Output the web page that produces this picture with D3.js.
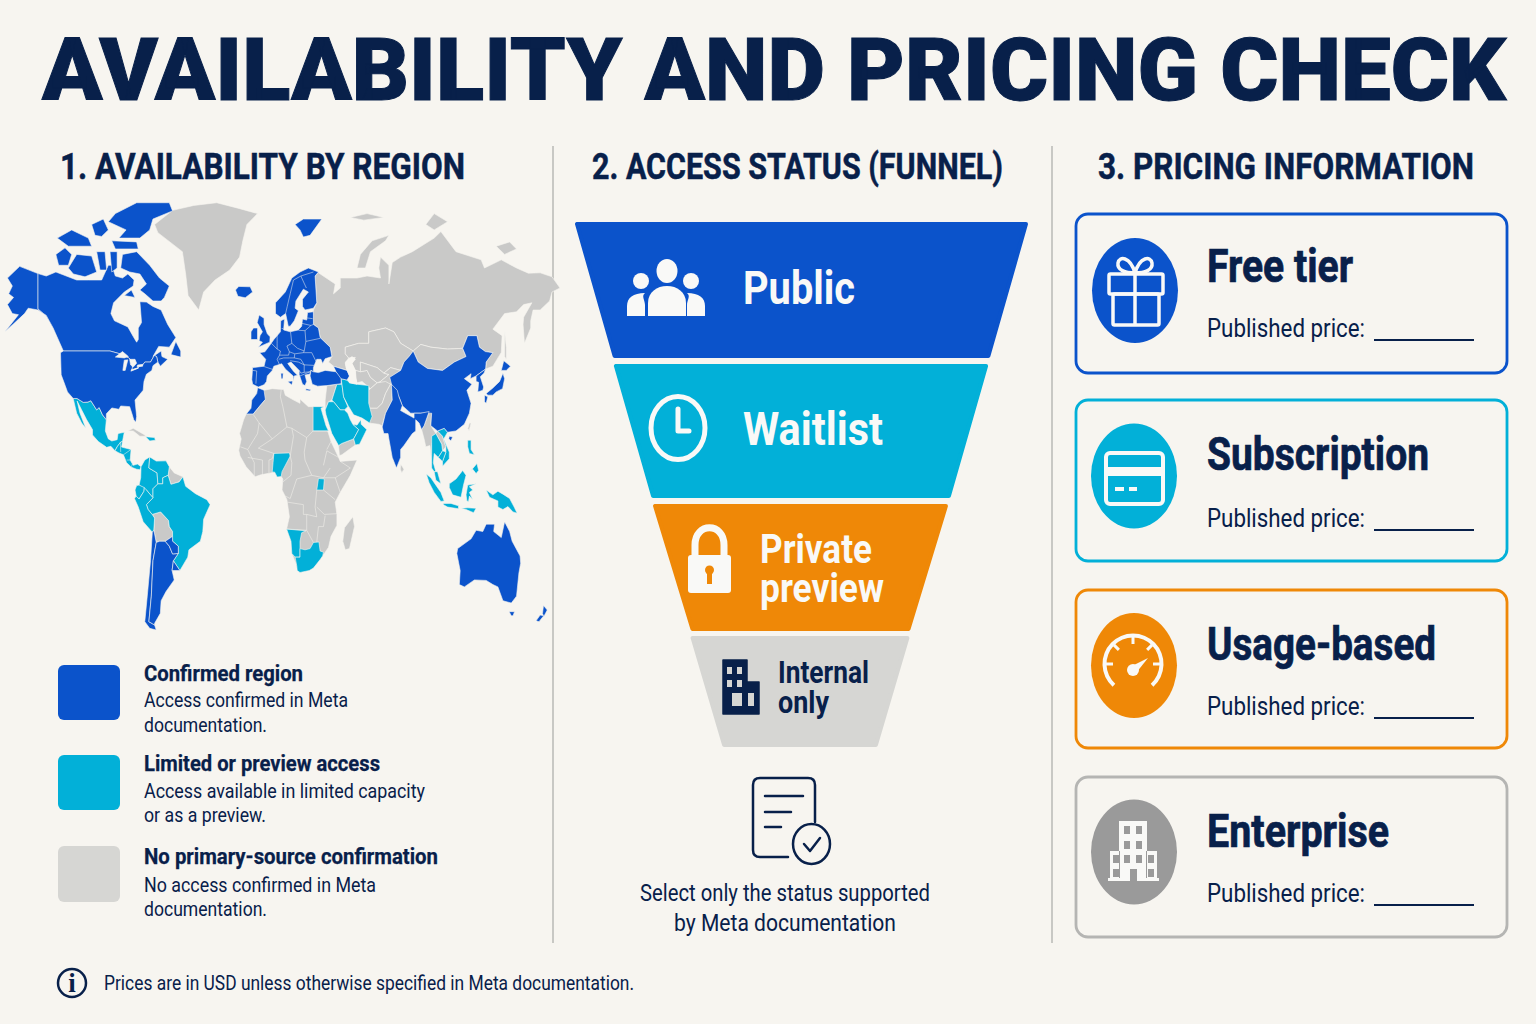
<!DOCTYPE html>
<html>
<head>
<meta charset="utf-8">
<title>Availability and pricing check</title>
<script src="https://cdn.jsdelivr.net/npm/d3@7"></script>
<style>
  html, body { margin: 0; padding: 0; background: #f7f5f0; }
  svg { display: block; }
  text { font-family: Roboto, "Noto Sans", sans-serif; }
</style>
</head>
<body>
<svg id="mainsvg" width="1536" height="1024"></svg>
<script>
// ---- chart content ----
const titleText = "AVAILABILITY AND PRICING CHECK"
const sectionTitles = ["1. AVAILABILITY BY REGION", "2. ACCESS STATUS (FUNNEL)", "3. PRICING INFORMATION"]

const legendTitles = ["Confirmed region", "Limited or preview access", "No primary-source confirmation"]
const legendBodies = [
  ["Access confirmed in Meta", "documentation."],
  ["Access available in limited capacity", "or as a preview."],
  ["No access confirmed in Meta", "documentation."]
]

const funnelStages = ["Public", "Waitlist", "Private preview", "Internal only"]
// width of each band at top and bottom, percent of the widest band
const funnelTopLevels = [100, 82.6, 65.1, 48.3]
const funnelBottomLevels = [83.4, 66.2, 48.6, 34.4]

const pricingTiers = ["Free tier", "Subscription", "Usage-based", "Enterprise"]
const priceLabel = "Published price:"
const captionLines = ["Select only the status supported", "by Meta documentation"]
const footnote = "Prices are in USD unless otherwise specified in Meta documentation."

// ---- map regions, [lon, lat] rings ----
const unconfirmedRegions = [
  [[-69,79],[-58,81.6],[-45,82.5],[-31,83],[-18,82],[-6,81],[-12.5,79],[-15,76],[-17,73],[-23,70.5],[-32,68],[-39,65],[-42,60],[-48.5,64],[-50,69.5],[-52,74],[-67,77.5]],
  [[31,69.8],[41,67],[40,64.5],[44,66],[44,68.5],[54,68.5],[60,69],[68,68.5],[67,71],[68,73],[73,71.5],[73,67],[75,72],[80,73],[87,74],[100,76.5],[104,77.7],[113,74],[128,72.5],[130,71],[140,72.5],[150,71],[160,69.7],[170,69.8],[180,68.8],[190,66],[180,65],[178,62.5],[170,60],[164,60],[162,57],[162,55],[156.7,51],[155.5,56],[156,58],[163,62],[156,61.5],[150,59.5],[142,59],[135,54.7],[140.5,53],[140,48.5],[135,43.5],[130.7,42.5],[131,45],[135,48.4],[130.5,48.8],[127,50],[125.5,53],[120,53],[117,49.7],[108,49.5],[98,50],[92,50.7],[87.5,49],[80,51],[76,54],[71,55],[61,54],[61,51],[55,51],[47,50],[47,48],[49,46.5],[47,44.5],[48,42],[40,43.5],[37,45],[39,47],[38,50],[32,52.5],[31,55],[28,56],[28,60],[30,62],[29,69]],
  [[54,71],[56,73.5],[63,76],[73,77],[71,76],[62,74],[59,71]],
  [[95,79],[100,81],[108,79.5],[100,78]],
  [[137,75],[145,75.8],[150,74.5],[142,73.5]],
  [[50,80.3],[60,81],[70,80.3],[58,79.8]],
  [[142,54],[143,50],[143,46],[142,47],[142,52]],
  [[47,50],[55,51],[61,51],[61,54],[71,55],[76,54],[80,51],[87.5,49],[85,47],[82,45],[80,42],[74,43],[70,41],[66,43],[61,44],[56,45],[56,41.5],[53,42],[51,44.5],[53,46.7],[49,46.5],[47,48]],
  [[53,39.5],[53,42],[56,41.5],[60,42],[62,39.5],[66,37.5],[62,35.5],[57,38],[54,37.5]],
  [[56,41.5],[56,45],[61,44],[66,43],[70,41],[73,40.5],[68,38],[66,37.5],[62,39.5],[60,42]],
  [[70,41],[74,43],[80,42],[74,39.5],[75,37],[68,37],[68,38],[73,40.5]],
  [[61,35],[62,35.5],[66,37.5],[71,38],[74,37],[71,34],[69,31],[66,29.5],[61,29.5]],
  [[61,25],[67,24.5],[69,24],[71,28],[75,32],[74.5,37],[74,37],[71,34],[69,31],[66,29.5],[61,29.5]],
  [[87.5,49],[92,50.7],[98,50],[108,49.5],[117,49.7],[119,47],[112,45],[105,42],[96,42.7],[90.5,45]],
  [[92.5,22.5],[94,24],[97,28.5],[98.5,28],[98,24],[101,21],[98.5,17],[98.5,10],[97.5,16.5],[95,16],[94,19]],
  [[101,21],[102,22],[105,20],[107,16],[105,14.5],[104.5,17]],
  [[36,36.5],[42,37],[39,32],[37,31.5],[35,29],[35,32]],
  [[43,16.5],[45,17.3],[52,19],[53,16.7],[45,13],[43.5,12.7]],
  [[-5.9,35.8],[-2,35],[3,35.5],[10,35.2],[11,33.5],[15,32.3],[20,31],[20,32.3],[25,30],[32,30],[34.2,30],[32.5,29.5],[35.5,24],[37,21],[38.5,18],[43,12],[44,10.5],[54,11],[50,5],[44,-2],[41,-6],[42,-11],[42,-15.5],[38.5,-20],[37,-24.5],[33.5,-28],[32,-29.5],[28,-33],[25.5,-34],[20,-34.8],[18.3,-34],[18,-32],[15,-27],[14.5,-22],[11.8,-17],[13.5,-12],[12,-5],[9,-1],[9.5,3.5],[8.5,4.5],[6,4.3],[4.5,6.3],[-4,5.2],[-7.5,4.4],[-13,8.5],[-16.7,12.5],[-17.5,14.7],[-16,19],[-17,21],[-14.5,26],[-13,27.7],[-10,29.5],[-9.5,32],[-6.5,34]],
  [[51.5,-12],[52.5,-16],[49.5,-25],[47,-25.5],[45.5,-22],[46.5,-16.5]],
  [[80,9.5],[82,7.5],[80.7,6],[79.8,7.5]],
  [[121,25],[122,25],[120.8,22],[120.1,23]],
  [[-85,22],[-82,23],[-75,20.5],[-74.5,20],[-78,20],[-82,22]],
  [[-60,8.5],[-57,6],[-51.7,4.4],[-54,2.3],[-59,1.3],[-60.7,5]],
  [[-69.5,-17.5],[-69,-12.5],[-70.5,-11],[-65.3,-10],[-60.5,-13.5],[-60,-16],[-58,-18],[-58,-20],[-62.5,-22],[-66,-22],[-68,-22.5],[-69,-19]]
]

const limitedRegions = [
  [[-117.1,32.5],[-114.8,32.5],[-111,31.3],[-108.2,31.4],[-106.5,31.8],[-103,29],[-101.5,29.7],[-99.5,27.5],[-97.2,26],[-97.8,22],[-96,19],[-94,18.2],[-91,18.7],[-90.5,21],[-87,21.5],[-88,18],[-89,17.8],[-91,16],[-92.2,14.5],[-94.5,16.2],[-97,15.8],[-102,18],[-105.5,20.5],[-105.5,22.5],[-109,26],[-112,29],[-114.7,31.7],[-113,28],[-109.5,23],[-112,25],[-115,28]],
  [[-92.2,14.5],[-91,16],[-89,17.8],[-88,18],[-88.5,15.9],[-83.2,15],[-83.7,11],[-82,9],[-79.5,9.5],[-77.3,8.5],[-78,7.3],[-80,7.5],[-83,8.3],[-85.7,10],[-87.5,13],[-90,13.7]],
  [[-74.5,19.8],[-69,19.5],[-68.5,18.5],[-72,18.2]],
  [[-77.3,8.5],[-75,11],[-72,12.2],[-72.5,8],[-67.5,6],[-67,1.5],[-70,-0.5],[-70,-4.2],[-74,-1],[-78.5,1],[-77.5,4]],
  [[-72,12.2],[-68,10.6],[-62,10.7],[-60,8.5],[-60.7,5],[-64,4],[-64,1.5],[-67,1.5],[-67.5,6],[-72.5,8]],
  [[-51.7,4.4],[-50,0.5],[-44,-2.5],[-37,-5],[-35,-7],[-39,-13],[-39.5,-18],[-41,-22],[-48,-25.5],[-48.7,-28.5],[-53.5,-34],[-57.5,-30],[-54.5,-27],[-54.5,-24],[-58,-22],[-58,-18],[-60,-16],[-60.5,-13.5],[-65.3,-10],[-70.5,-11],[-73,-9],[-74,-7],[-70,-4.2],[-70,-0.5],[-67,1.5],[-64,1.5],[-64,4],[-60.7,5],[-59,1.3],[-54,2.3]],
  [[-78.5,1],[-75.3,0],[-75.5,-1.5],[-78.5,-4.7],[-80.3,-3.5],[-81,-1],[-80,0.8]],
  [[-81.3,-4.5],[-80.3,-3.5],[-78.5,-4.7],[-75.5,-1.5],[-75.3,0],[-74,-1],[-70,-4.2],[-74,-7],[-73,-9],[-70.5,-11],[-69,-12.5],[-69.5,-17.5],[-70.4,-18.3],[-76,-14],[-79,-8]],
  [[27.8,30],[32,30],[34.2,30],[32.5,29.5],[35.5,24],[37,22],[27.8,22]],
  [[3,6.4],[4.5,6.3],[6,4.3],[8.5,4.5],[9,6.5],[14,12.5],[13.5,13.7],[4,13.5],[3.5,10]],
  [[30,-1],[34,-1],[34.5,3.5],[31,3.7]],
  [[11.8,-17],[23.5,-17.7],[21,-18.5],[20,-22],[20,-28.5],[17,-28.5],[15,-27],[14.5,-22]],
  [[17,-28.5],[20,-28.5],[20,-25],[23,-25.5],[26,-25],[28,-22.5],[31.3,-22.3],[32,-26],[34,-26.5],[33.5,-28],[32,-29.5],[28,-33],[25.5,-34],[20,-34.8],[18.3,-34],[18,-32]],
  [[39,32],[42,37],[45,37],[46,33],[48.5,30],[46.5,29],[44,29],[40,31.5]],
  [[44.5,39],[48,38.5],[49.5,37.5],[54,37],[61,36.5],[61,31],[63,27],[61.5,25],[57,26.5],[52,27.5],[48.7,30.3],[46,33],[45,37]],
  [[35,29],[37,31.5],[40,31.5],[44,29],[46.5,29],[48.5,28],[50,26],[51.5,24.5],[55,22.5],[52,19],[45,17.3],[43,16.5],[39,21],[35.5,27.5]],
  [[51.5,24.5],[54,24.2],[56.3,26],[56.5,24.5],[59.8,22.5],[55.5,17],[53,16.7],[52,19],[55,22.5]],
  [[98.5,20],[101,21],[104.5,17],[105,14.5],[102.5,12],[100,13.5],[99.5,10],[101,6.5],[100,6.5],[98.5,8],[98.5,13],[98.5,17]],
  [[102,22],[106,23],[108,21.5],[105.7,19],[109,14],[109,11.5],[105,8.7],[105,10.5],[107,14],[107,16],[105,20]],
  [[102.5,12],[105,14.5],[107,14],[105,10.5]],
  [[100,6.5],[102,6.5],[104,1.5],[101,3]],
  [[95.3,5.5],[98,4],[104,-2],[106,-5.5],[104,-5.7],[100,-2],[97,2]],
  [[105.5,-6.5],[110,-6.5],[114.5,-7.5],[114.5,-8.7],[108,-8],[105.5,-7]],
  [[109,1.5],[113,3.5],[117,7],[119,5],[117.5,1],[116,-4],[111,-3],[109,0]],
  [[119.5,-5.5],[119,-3],[120,1],[125,1.5],[121,0.3],[123,-1],[121,-2],[123,-5],[121,-3.5],[120.5,-5.7]],
  [[120,18.5],[122,18.5],[122,15],[124,13],[121,13.5],[120,16]],
  [[122,7],[125.5,9.7],[126.5,7],[125,5.7],[123,7.5]],
  [[131,-1],[135,-3],[138,-1.5],[141,-2.7],[145,-4.5],[148,-8],[150.5,-10.5],[147,-10],[144,-7.8],[141,-9],[138,-8],[138,-5.5],[133,-4]],
  [[116,-8.5],[120,-8.3],[125,-8.5],[123.5,-10.3],[119,-9]]
]

const confirmedRegions = [
  [[-141,69.6],[-156,71.3],[-166,68.5],[-162,66.5],[-165,64.5],[-161,63.5],[-166,61.5],[-162,59],[-157,58.7],[-168,54],[-152,59],[-149,60.5],[-141,60],[-135,58.5],[-130,55],[-133,58],[-137,59],[-141,60.3]],
  [[-141,69.6],[-135,69],[-128,70],[-115,68],[-108,68],[-100,68],[-96,71.5],[-94,71.5],[-92,69],[-88,68.5],[-85,69.5],[-81.5,68],[-82,66.5],[-87,65],[-93,62],[-94.5,59],[-92.5,57],[-85,55.3],[-82,52.8],[-80,51.3],[-79,52],[-79,55],[-77,56.5],[-78,62.3],[-74,62.2],[-70,61],[-65,60],[-61,56],[-56,52.5],[-60,50],[-66.5,50.2],[-70,47],[-65,49],[-64.5,47],[-61,46],[-65.5,43.5],[-67,45],[-67.8,47],[-69.2,47.4],[-71.5,45],[-75,45],[-76.5,43.8],[-79,43.3],[-79,42.8],[-83,42],[-82.5,43],[-82.5,45.3],[-84.5,46.5],[-89.5,48],[-95,49],[-123,49],[-130,55],[-135,58.5],[-137,59],[-141,60.3]],
  [[-89,71],[-88,73.5],[-80,74],[-72,71.5],[-66,68.5],[-60,66.5],[-63,63.5],[-65,62.5],[-70,62.5],[-75,64.5],[-78,65.5],[-74,67],[-78,69.5],[-84,70]],
  [[-120,71],[-115,73.5],[-106,73.2],[-103,70],[-110,68.8],[-117,69.5]],
  [[-128,73.5],[-122,74.7],[-118,73.5],[-120,71.5],[-126,71.5]],
  [[-96,79.5],[-92,81],[-80,83],[-60,83],[-58,81.5],[-70,80],[-72,78],[-78,76.5],[-90,76.5],[-86,78]],
  [[-94,76],[-80,75.8],[-79,74.5],[-92,74.5]],
  [[-127,76.5],[-118,78],[-108,76.5],[-106,75],[-120,75]],
  [[-106,79],[-99,80],[-96,78],[-100,76.8],[-104,77]],
  [[-103,74],[-98,74],[-97,70.5],[-101,70.5]],
  [[-95,74],[-91,74],[-91,71],[-94,70]],
  [[-59,47.7],[-53,46.8],[-53,49],[-56,51.5]],
  [[-87,64],[-81,63.5],[-83,65.5]],
  [[-124.7,48.4],[-123,49],[-95,49],[-89.5,48],[-84.5,46.5],[-82.5,45.3],[-82.5,43],[-83,42],[-79,42.8],[-79,43.3],[-76.5,43.8],[-75,45],[-71.5,45],[-69.2,47.4],[-67.8,47],[-67,45],[-70,43.7],[-70.7,42],[-74,40.6],[-75.5,38],[-76,35],[-78,33.8],[-81,32],[-80,27],[-80.5,25.2],[-81.7,26],[-82.8,28],[-84,30],[-89,30.2],[-90,29.2],[-94,29.6],[-97.2,27.8],[-97.2,26],[-99.5,27.5],[-101.5,29.7],[-103,29],[-106.5,31.8],[-108.2,31.4],[-111,31.3],[-114.8,32.5],[-117.1,32.5],[-120.5,34.5],[-122.5,37.5],[-124.3,40.4]],
  [[-9,37],[-9.5,38.7],[-9,43],[-2,43.5],[-1,46],[-4.7,48.4],[-1.5,48.7],[1.5,50.5],[4,52],[8,54],[8.2,57],[10.5,57.5],[10,54.5],[14,54],[19,54.5],[21,55.5],[21.5,57.5],[24,57.2],[24.5,59.3],[28,59.5],[28,56],[31,55],[32,52.5],[38,50],[39,47],[35,46.2],[33.5,44.5],[32.5,46],[30,46],[28,43],[28,41.5],[26.5,42],[26,40.7],[23,40.3],[24,38],[23,36.5],[21.5,37],[19.5,40.5],[19.5,42],[14.5,45],[12.5,44.5],[16,41.7],[18.5,40.2],[16.5,40],[16,38],[15.8,40],[11,42.5],[8.8,44.4],[4,43.5],[3,42],[0,40],[-0.5,38],[-2,36.8],[-5.5,36]],
  [[5,59],[5,62],[11,65],[15,68.5],[20,70],[25,71],[31,70],[29,69],[30,62],[28,60.5],[23,60],[21.5,61],[21.5,63],[25,65],[22,65.7],[17.5,62.5],[17,60.5],[19,59.8],[16.5,57],[14,55.5],[12.8,55.5],[11.2,59],[8,58]],
  [[-5.5,50],[1.5,51.3],[1.7,52.7],[0,53.5],[-2,56],[-2,57.7],[-5,58.6],[-6.2,56.5],[-3,54],[-4.5,53],[-5,51.7],[-3,51.3]],
  [[-10,52],[-6,52],[-6,55],[-8.5,55],[-10,54]],
  [[-19.5,65.5],[-17.5,66.4],[-10.5,66.3],[-9,65],[-13.5,63.4],[-18,63.8]],
  [[17,79],[22,80],[33,80],[26,77],[22,76.7],[20,78]],
  [[8.3,41],[9.7,41],[9.5,39],[8.5,39]],
  [[12.5,38],[15.5,38.2],[15,36.7]],
  [[23.5,35.5],[26.3,35.2],[26,34.8],[23.5,35]],
  [[-5.9,35.8],[-2,35],[-1.2,32.2],[-5,30],[-8.7,27.7],[-13,27.7],[-10,29.5],[-9.5,32],[-6.5,34]],
  [[26,40],[26.5,42],[28,41.5],[31,41.2],[35,42],[41.5,41.5],[44.5,39.5],[44.5,37.2],[42,37],[36,36.5],[30.5,36.3],[27.3,37]],
  [[40,43.5],[48,42],[49.5,40],[48,38.5],[44.5,39],[41.5,41.5]],
  [[73.5,39.5],[80,42],[82,45],[85,47],[87.5,49],[90.5,45],[96,42.7],[105,42],[112,45],[119,47],[117,49.7],[120,53],[125.5,53],[127,50],[130.5,48.8],[135,48.4],[131,45],[130.7,42.5],[125,40],[121.5,39],[122,40.8],[118,39],[122.5,37],[119.5,35],[122,31],[121,28],[118,24.5],[113,22],[108,21.5],[106,23],[102,22],[98,24],[98.5,28],[92,28],[86,28],[81,30.3],[79,33],[75,36]],
  [[74.5,37],[78,35],[79,33],[81,30.3],[80,28.8],[88,26.5],[88,28],[92,28],[97,28.5],[94,24],[92.5,22.5],[91,25],[89,26],[89,22],[87,21],[82,16.5],[80,15],[80,12],[77.5,8],[75,12],[73,19],[72.5,21],[70,21],[69,23.5],[71,28],[75,32]],
  [[109,20],[111,19.7],[110,18.3],[108.7,19]],
  [[125,40],[130.7,42.5],[129.7,41],[127.5,39.7],[129.5,36],[129,35],[126,34.5],[126.5,37.7],[125,38]],
  [[131,34],[135,35.7],[139,38],[141,41],[142,39],[140.8,35.5],[137,34.5],[135,33.5],[132,33.5]],
  [[140,42],[141.5,45.5],[145.5,43.5],[143,42]],
  [[130,33.5],[132,33],[131,31],[130,31.5]],
  [[-70.4,-18.3],[-69.5,-17.5],[-69,-19],[-68,-22.5],[-70,-30],[-71,-40],[-72.5,-50],[-69,-52],[-68,-55],[-72,-54],[-75,-50],[-73.5,-40],[-71.5,-30]],
  [[-68,-22.5],[-66,-22],[-62.5,-22],[-60,-24],[-58,-27.2],[-54.5,-27],[-57.5,-30],[-58.3,-34],[-57,-36.5],[-62,-39],[-65,-41],[-65.5,-45],[-69,-51],[-69,-52],[-72.5,-50],[-71,-40],[-70,-30]],
  [[-58,-20],[-58,-22],[-54.5,-24],[-54.5,-27],[-58,-27.2],[-60,-24],[-62.5,-22]],
  [[-57.5,-30],[-53.5,-34],[-58.3,-34]],
  [[113.5,-27],[114,-25],[122,-21],[125,-17.5],[129,-18],[131,-15],[136,-15],[135.5,-18],[140,-20.5],[142,-14],[145,-18],[146.5,-22],[153,-28],[153.5,-31],[152,-35],[150,-40],[146,-41.5],[141,-41],[138,-38],[135,-37.5],[131,-36.6],[124,-36.5],[118,-38],[115,-37.5],[115.5,-34]],
  [[144.7,-44],[148.3,-44],[147,-46.5],[146,-46.5]],
  [[172.8,-42],[176,-43],[173,-47],[172,-45]],
  [[170,-46],[173,-46.5],[169,-50],[166.5,-49.5]]
]

const waterBodies = [
  [[-92,46.8],[-88,48.8],[-84.7,47],[-87,46.5]],
  [[-87.8,42],[-86.5,42],[-85,45.8],[-87,45.7]],
  [[-84,46],[-81,46],[-80,44.6],[-82,43.2],[-83.5,44]],
  [[-83.3,41.7],[-79,42.8],[-79,43],[-83,42.2]],
  [[-79.7,43.3],[-76.3,43.5],[-76.3,44.2],[-79.5,43.9]],
  [[47,45],[51,47],[53,46],[51,44.5],[53,42],[53.5,39],[54,37],[49.5,37.5],[49.5,40],[47.5,43]]
]

const mapBorders = [
  [[-2,43.4],[3,42.4]], [[-9,42],[-6.5,41.8],[-7,37.2]],
  [[2.5,51],[6,49.5],[8,49],[7.5,47.5],[6,46],[7.5,44]], [[6,53.3],[6,51],[6,49.5]],
  [[14.2,54],[15,51],[12,50.3],[13.5,48.7],[13,47.5],[9.7,47.5],[7.5,47.5]],
  [[7,46],[10,46.5],[13.7,46.5],[16.5,46.5],[16.8,48],[13.5,48.7]],
  [[15,51],[18.5,49.7],[22.5,49],[22,48.4],[17,48]],
  [[19,54.4],[23,54.3],[23.5,51.5],[22.5,49]], [[23.5,51.5],[32,52.3]],
  [[23,54.3],[26.5,55.7],[28,56]], [[21,56.3],[26.5,55.7]], [[24,57.8],[27.5,57.6]],
  [[22,48.4],[27,48.4],[29.5,45.3]], [[20.5,46],[22.5,44],[28.5,43.8]], [[16.5,46.5],[20.5,46]],
  [[14,45.5],[19,45],[22.5,44],[22.5,41.3],[20.5,41],[19.5,42]], [[20,40],[26,41.5]], [[22.5,41.3],[26,41.5]],
  [[8.7,54.9],[9.8,54.8]], [[11.2,59],[12.2,61],[14,64.5],[16,68],[20.5,69],[28,70]], [[23.8,66],[20.5,69]],
  [[-13,27.7],[-8.7,27.7],[-5,25],[-6,21],[-12,15],[-16.5,16]], [[-8.7,27.7],[-1.2,32.2]],
  [[-5,25],[3,19],[4,19.5],[12,23.5],[9.5,30],[8,33],[8.5,35.2]],
  [[12,23.5],[15,23],[24,19.5],[27.8,22]], [[15,23],[16,20],[14,12.5]],
  [[24,19.5],[22.5,14],[23,11],[27,5],[34,4],[38,8]], [[27.8,22],[37,22]], [[36,15],[38.5,18]],
  [[34,9],[36,14.5],[43,12]], [[44,-2],[41,4],[50,8],[44,10.5]], [[34,4],[41,4]], [[34,-1],[41,-5]],
  [[14,12.5],[15,10],[14.5,5],[9.5,2.3]], [[11,-3.5],[14,-4.5],[18,3.5],[27,5]],
  [[12.5,-6],[22,-7],[22,-11],[24,-11],[30,-12],[29,-8],[30,-1]], [[30,-8],[34.5,-11],[42,-10.7]],
  [[11.8,-17],[24,-17.5],[24,-11]], [[35,-11.5],[34,-16],[31,-16],[30,-22.3]], [[24,-17.5],[28,-22.5]],
  [[-12,15],[-8,10],[-8,4.5]], [[-3,5],[-3,11],[-12,12]], [[1,6],[1,11],[3,11.5],[4,13.5],[-5.5,15.5],[3,19]],
  [[-89,14],[-89.2,17.8]], [[-87.5,13],[-83.2,15]], [[-85.7,11],[-83.7,11]], [[-83,8.3],[-82.5,9.5]]
]

// ---- colours ----
const BG = "#f7f5f0", NAVY = "#08204a", BLUE = "#0b53cb", TEAL = "#02b0d8", ORANGE = "#ef8807", LIGHT = "#d6d6d3", MAPGRAY = "#c9c9c8", MIDGRAY = "#9a9a9a"

const svg = d3.select("#mainsvg")
svg.append("rect").attr("width", 1536).attr("height", 1024).attr("fill", BG)

// text squeezed to the measured width, the original face is a condensed one
function label (g, str, x, y, size, weight, width, fill, extra) {
  const t = g.append("text")
    .attr("x", x).attr("y", y)
    .attr("font-size", size)
    .attr("font-weight", weight)
    .attr("fill", fill)
    .attr("textLength", width)
    .attr("lengthAdjust", "spacingAndGlyphs")
    .text(str)
  if (extra) t.attr("stroke", fill).attr("stroke-width", extra)
  return t
}

// two line label kept in one text element
function label2 (g, words, x, ys, size, widths, fill) {
  const t = g.append("text").attr("font-size", size).attr("font-weight", 700).attr("fill", fill)
  words.forEach((w, i) => t.append("tspan")
    .attr("x", x).attr("y", ys[i])
    .attr("textLength", widths[i])
    .attr("lengthAdjust", "spacingAndGlyphs")
    .text(w))
}

function renderHeader () {
  const g = svg.append("g").attr("id", "header")
  label(g, titleText, 42, 100, 88, 900, 1464, NAVY, 1)
  const xs = [60, 592, 1098], ws = [405, 411, 376]
  sectionTitles.forEach((t, i) => label(g, t, xs[i], 179, 36, 700, ws[i], NAVY, 0.5))
  g.selectAll("line").data([553, 1052]).enter().append("line")
    .attr("x1", d => d).attr("x2", d => d).attr("y1", 146).attr("y2", 943)
    .attr("stroke", "#c8c8c4").attr("stroke-width", 2)
}

function renderMap () {
  const lonScale = d3.scaleLinear().domain([-168, -141, -125, -95, -81, 20, 147, 180, 190]).range([5, 38, 60, 110, 135, 300, 513, 552, 560])
  const latScale = d3.scaleLinear().domain([83.5, 71, 65, 55, 49, 36, 25, 8, -35, -43, -55]).range([200, 268, 292, 328, 351, 387, 423, 468, 573, 610, 630])
  const path = d3.geoPath(d3.geoTransform({
    point: function (lon, lat) { this.stream.point(lonScale(lon), latScale(lat)) }
  }))
  const poly = ring => ({ type: "Polygon", coordinates: [ring.concat([ring[0]])] })
  const g = svg.append("g").attr("id", "map_group")
  const layer = (rings, fill, name) => g.selectAll("path." + name)
    .data(rings.map(poly)).enter().append("path")
    .attr("class", name)
    .attr("d", path)
    .attr("fill", fill)
    .attr("stroke", BG)
    .attr("stroke-width", 0.6)
    .attr("stroke-linejoin", "round")
  layer(unconfirmedRegions, MAPGRAY, "unconfirmed")
  layer(limitedRegions, TEAL, "limited")
  layer(confirmedRegions, BLUE, "confirmed")
  layer(waterBodies, BG, "water")
  g.append("path")
    .attr("d", path({ type: "MultiLineString", coordinates: mapBorders }))
    .attr("fill", "none").attr("stroke", BG).attr("stroke-width", 0.6).attr("opacity", 0.85)
}

function renderLegend () {
  const g = svg.append("g").attr("id", "legend")
  const colors = [BLUE, TEAL, LIGHT]
  const tops = [665, 755, 846], heights = [55, 55, 56]
  const titleY = [681, 771, 864], lineY = [[707, 732], [798, 822], [892, 916]]
  const titleW = [159, 236, 294], lineW = [[204, 123], [281, 122], [232, 123]]
  legendTitles.forEach((t, i) => {
    g.append("rect").attr("x", 58).attr("y", tops[i]).attr("width", 62).attr("height", heights[i])
      .attr("rx", 6).attr("fill", colors[i])
    label(g, t, 144, titleY[i], 22, 700, titleW[i], NAVY, 0.25)
    legendBodies[i].forEach((s, j) => label(g, s, 144, lineY[i][j], 21, 400, lineW[i][j], NAVY))
  })
}

function renderFunnel () {
  const g = svg.append("g").attr("id", "funnel")
  const cxs = [801.5, 801, 800.5, 800]
  const w = d3.scaleLinear().domain([0, 100]).range([0, 453])
  const tops = [222, 364, 504, 636], bottoms = [358, 498, 631, 747]
  const colors = [BLUE, TEAL, ORANGE, LIGHT]
  const trapezoid = d3.line()
  funnelStages.forEach((s, i) => {
    const a = w(funnelTopLevels[i]) / 2 - 2, b = w(funnelBottomLevels[i]) / 2 - 2, cx = cxs[i]
    g.append("path")
      .attr("d", trapezoid([[cx - a, tops[i] + 2], [cx + a, tops[i] + 2], [cx + b, bottoms[i] - 2], [cx - b, bottoms[i] - 2]]) + "Z")
      .attr("fill", colors[i]).attr("stroke", colors[i]).attr("stroke-width", 4).attr("stroke-linejoin", "round")
  })
  const W = "#f9f9f7"
  label(g, funnelStages[0], 743, 304, 46, 700, 112, W)
  label(g, funnelStages[1], 743, 445, 46, 700, 140, W)
  label2(g, funnelStages[2].split(" "), 760, [563, 602], 41, [112, 124], W)
  label2(g, funnelStages[3].split(" "), 778, [683, 713], 31, [91, 51], NAVY)

  // people
  const ic = g.append("g").attr("fill", W)
  ic.append("ellipse").attr("cx", 667).attr("cy", 271).attr("rx", 10.5).attr("ry", 12)
  ic.append("circle").attr("cx", 641).attr("cy", 281).attr("r", 8)
  ic.append("circle").attr("cx", 691).attr("cy", 281).attr("r", 8)
  ic.append("path").attr("d", "M648 316V303C648 292 657 286 667 286C677 286 686 292 686 303V316Z")
  ic.append("path").attr("d", "M627 316V306C627 298 633 293 645 293C641 296 645 300 645 305V316Z")
  ic.append("path").attr("d", "M705 316V306C705 298 699 293 687 293C691 296 687 300 687 305V316Z")
  // clock
  g.append("ellipse").attr("cx", 678).attr("cy", 428).attr("rx", 27).attr("ry", 31.5)
    .attr("fill", "none").attr("stroke", W).attr("stroke-width", 5)
  g.append("path").attr("d", "M678 409V431H689").attr("fill", "none").attr("stroke", W)
    .attr("stroke-width", 5).attr("stroke-linecap", "round").attr("stroke-linejoin", "round")
  // lock
  g.append("path").attr("d", "M695 556V545C695 522 724 522 724 545V556").attr("fill", "none").attr("stroke", W).attr("stroke-width", 7)
  g.append("rect").attr("x", 688).attr("y", 555).attr("width", 43).attr("height", 38).attr("rx", 3).attr("fill", W)
  g.append("circle").attr("cx", 709.5).attr("cy", 570).attr("r", 4.5).attr("fill", ORANGE)
  g.append("rect").attr("x", 707).attr("y", 571).attr("width", 5).attr("height", 13).attr("fill", ORANGE)
  // building
  g.append("path").attr("d", "M723 660H747V682H759V714H723Z").attr("fill", NAVY).attr("stroke", NAVY).attr("stroke-width", 1.5).attr("stroke-linejoin", "round")
  const win = g.append("g").attr("fill", LIGHT)
  ;[[727, 667], [737, 667], [727, 680], [737, 680]].forEach(p => win.append("rect").attr("x", p[0]).attr("y", p[1]).attr("width", 5).attr("height", 7))
  win.append("rect").attr("x", 732).attr("y", 693).attr("width", 10).attr("height", 13)
  win.append("rect").attr("x", 748).attr("y", 693).attr("width", 6).attr("height", 13)
  // document with check
  const doc = g.append("g").attr("fill", "none").attr("stroke", NAVY).attr("stroke-width", 2.5).attr("stroke-linecap", "round").attr("stroke-linejoin", "round")
  doc.append("path").attr("d", "M815 822V785Q815 778 808 778H760Q753 778 753 785V850Q753 857 760 857H788")
  doc.append("path").attr("d", "M765 796H803M765 812H791M765 827H781")
  doc.append("ellipse").attr("cx", 811.5).attr("cy", 844).attr("rx", 18.5).attr("ry", 20)
  doc.append("path").attr("d", "M804 844L810 851L820 838")
  label(g, captionLines[0], 640, 901, 24, 400, 290, NAVY)
  label(g, captionLines[1], 674, 931, 24, 400, 222, NAVY)
}

function renderCards () {
  const g = svg.append("g").attr("id", "cards")
  const colors = [BLUE, TEAL, ORANGE, "#b5b5b3"]
  const fills = [BLUE, TEAL, ORANGE, MIDGRAY]
  const tops = [214, 400, 590, 777], bottoms = [373, 561, 748, 937]
  const cy = [290.5, 476, 665.5, 852], cx = [1135, 1134, 1134, 1134]
  const nameY = [282, 470, 660, 847], nameW = [146, 222, 229, 182]
  const priceY = [337, 527, 715, 902], ruleY = [340, 530, 718, 905]
  pricingTiers.forEach((t, i) => {
    g.append("rect").attr("x", 1076).attr("y", tops[i]).attr("width", 431).attr("height", bottoms[i] - tops[i])
      .attr("rx", 12).attr("fill", "none").attr("stroke", colors[i]).attr("stroke-width", 2.8)
    g.append("ellipse").attr("cx", cx[i]).attr("cy", cy[i]).attr("rx", 43).attr("ry", 52.5).attr("fill", fills[i])
    label(g, t, 1207, nameY[i], 46, 700, nameW[i], NAVY, 0.7)
    label(g, priceLabel, 1207, priceY[i], 26, 400, 158, NAVY)
    g.append("line").attr("x1", 1374).attr("x2", 1474).attr("y1", ruleY[i]).attr("y2", ruleY[i]).attr("stroke", NAVY).attr("stroke-width", 2)
  })
  const W = "#f9f9f7"
  // gift
  const gift = g.append("g").attr("fill", "none").attr("stroke", W).attr("stroke-width", 3.5).attr("stroke-linejoin", "round")
  gift.append("rect").attr("x", 1109).attr("y", 274).attr("width", 54).attr("height", 20).attr("rx", 1.5)
  gift.append("rect").attr("x", 1113).attr("y", 294).attr("width", 46).attr("height", 31).attr("rx", 1.5)
  gift.append("path").attr("d", "M1135 274V325M1135 273C1125 273 1117 270 1118 263C1119 256 1130 256 1135 273C1140 256 1151 256 1152 263C1153 270 1145 273 1135 273")
  // card
  g.append("rect").attr("x", 1106).attr("y", 453).attr("width", 57).attr("height", 51).attr("rx", 4).attr("fill", "none").attr("stroke", W).attr("stroke-width", 4)
  g.append("rect").attr("x", 1106).attr("y", 467).attr("width", 57).attr("height", 9).attr("fill", W)
  g.append("rect").attr("x", 1115).attr("y", 487).attr("width", 9).attr("height", 4).attr("fill", W)
  g.append("rect").attr("x", 1129).attr("y", 487).attr("width", 8).attr("height", 4).attr("fill", W)
  // gauge
  const gauge = g.append("g").attr("transform", "translate(1133,664)")
  const tickAngles = [-90, -45, 0, 45, 90]
  gauge.append("path").attr("d", d3.arc().innerRadius(26.5).outerRadius(30.5).startAngle(-138 * Math.PI / 180).endAngle(138 * Math.PI / 180)).attr("fill", W)
  gauge.selectAll("line").data(tickAngles).enter().append("line")
    .attr("x1", d => 20 * Math.sin(d * Math.PI / 180)).attr("y1", d => -20 * Math.cos(d * Math.PI / 180))
    .attr("x2", d => 27 * Math.sin(d * Math.PI / 180)).attr("y2", d => -27 * Math.cos(d * Math.PI / 180))
    .attr("stroke", W).attr("stroke-width", 3)
  gauge.append("circle").attr("cy", 6).attr("r", 6).attr("fill", W)
  gauge.append("path").attr("d", "M-3 3L15 -6L3 9Z").attr("fill", W)
  // tower
  g.append("rect").attr("x", 1119).attr("y", 821).attr("width", 28).attr("height", 60).attr("fill", W)
  g.append("rect").attr("x", 1110).attr("y", 851).attr("width", 47).attr("height", 30).attr("fill", W)
  g.append("rect").attr("x", 1108).attr("y", 878).attr("width", 51).attr("height", 3).attr("fill", W)
  const wins = g.append("g").attr("fill", MIDGRAY)
  ;[[1124, 826], [1136, 826], [1124, 841], [1136, 841], [1124, 855], [1136, 855], [1113, 855], [1148, 855], [1113, 869], [1148, 869]].forEach(p =>
    wins.append("rect").attr("x", p[0]).attr("y", p[1]).attr("width", 6).attr("height", 8))
  wins.append("rect").attr("x", 1130).attr("y", 869).attr("width", 7).attr("height", 12)
  wins.append("rect").attr("x", 1119).attr("y", 851).attr("width", 1).attr("height", 27)
  wins.append("rect").attr("x", 1146).attr("y", 851).attr("width", 1).attr("height", 27)
}

function renderFootnote () {
  const g = svg.append("g").attr("id", "footnote")
  g.append("circle").attr("cx", 72).attr("cy", 983).attr("r", 14).attr("fill", "none").attr("stroke", NAVY).attr("stroke-width", 2.5)
  g.append("text").attr("x", 72).attr("y", 992).attr("text-anchor", "middle").attr("font-size", 27).attr("font-weight", 700)
    .attr("fill", NAVY).style("font-family", "'Liberation Serif', serif").text("i")
  label(g, footnote, 104, 990, 21, 400, 530, NAVY)
}

renderHeader()
renderMap()
renderLegend()
renderFunnel()
renderCards()
renderFootnote()
</script>
</body>
</html>
